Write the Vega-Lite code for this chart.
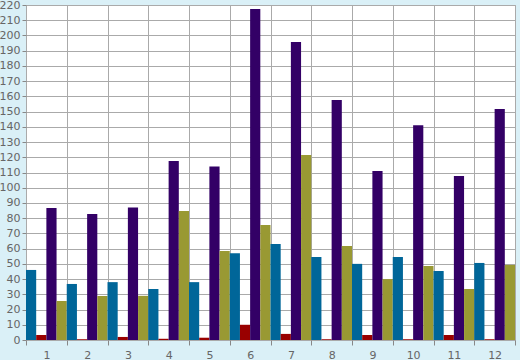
{
  "$schema": "https://vega.github.io/schema/vega-lite/v6.json",
  "autosize": {"type": "none"},
  "width": 489,
  "height": 335,
  "padding": {"left": 26, "top": 5, "right": 5, "bottom": 20},
  "background": "#daf0f7",
  "config": {
    "view": {"fill": "#ffffff", "stroke": "#aaaaaa", "strokeWidth": 1},
    "axis": {"labelFont": "DejaVu Sans", "labelFontSize": 11, "labelColor": "#666666", "gridColor": "#aaaaaa", "gridOpacity": 1, "tickColor": "#888888", "domain": false, "title": null}
  },
  "data": {
    "values": [
      {"g": 1, "s": "a", "v": 46}, {"g": 1, "s": "b", "v": 3.3}, {"g": 1, "s": "c", "v": 86.7}, {"g": 1, "s": "d", "v": 25.6},
      {"g": 2, "s": "a", "v": 36.8}, {"g": 2, "s": "b", "v": 0.5}, {"g": 2, "s": "c", "v": 82.7}, {"g": 2, "s": "d", "v": 28.9},
      {"g": 3, "s": "a", "v": 38}, {"g": 3, "s": "b", "v": 2}, {"g": 3, "s": "c", "v": 87}, {"g": 3, "s": "d", "v": 29},
      {"g": 4, "s": "a", "v": 33.5}, {"g": 4, "s": "b", "v": 0.8}, {"g": 4, "s": "c", "v": 117.5}, {"g": 4, "s": "d", "v": 84.7},
      {"g": 5, "s": "a", "v": 38}, {"g": 5, "s": "b", "v": 1.5}, {"g": 5, "s": "c", "v": 114}, {"g": 5, "s": "d", "v": 58.5},
      {"g": 6, "s": "a", "v": 57}, {"g": 6, "s": "b", "v": 10}, {"g": 6, "s": "c", "v": 217.4}, {"g": 6, "s": "d", "v": 75.5},
      {"g": 7, "s": "a", "v": 63}, {"g": 7, "s": "b", "v": 4}, {"g": 7, "s": "c", "v": 195.7}, {"g": 7, "s": "d", "v": 121.5},
      {"g": 8, "s": "a", "v": 54.5}, {"g": 8, "s": "b", "v": 0.5}, {"g": 8, "s": "c", "v": 157.6}, {"g": 8, "s": "d", "v": 61.7},
      {"g": 9, "s": "a", "v": 50}, {"g": 9, "s": "b", "v": 3.3}, {"g": 9, "s": "c", "v": 111}, {"g": 9, "s": "d", "v": 40},
      {"g": 10, "s": "a", "v": 54.5}, {"g": 10, "s": "b", "v": 0.5}, {"g": 10, "s": "c", "v": 141}, {"g": 10, "s": "d", "v": 48.6},
      {"g": 11, "s": "a", "v": 45.3}, {"g": 11, "s": "b", "v": 3.3}, {"g": 11, "s": "c", "v": 107.7}, {"g": 11, "s": "d", "v": 33.5},
      {"g": 12, "s": "a", "v": 50.6}, {"g": 12, "s": "b", "v": 0.5}, {"g": 12, "s": "c", "v": 151.7}, {"g": 12, "s": "d", "v": 49.3}
    ]
  },
  "mark": {"type": "bar"},
  "encoding": {
    "x": {
      "field": "g", "type": "ordinal",
      "scale": {"paddingInner": 0, "paddingOuter": 0},
      "axis": {"labelAngle": 0, "tickBand": "extent", "grid": true, "tickSize": 5, "labelPadding": 4}
    },
    "xOffset": {"field": "s", "type": "nominal", "scale": {"paddingInner": 0, "paddingOuter": 0}},
    "y": {
      "field": "v", "type": "quantitative",
      "scale": {"domain": [0, 220], "nice": false},
      "axis": {"values": [0,10,20,30,40,50,60,70,80,90,100,110,120,130,140,150,160,170,180,190,200,210,220], "tickSize": 4, "labelPadding": 2, "grid": true}
    },
    "color": {
      "field": "s", "type": "nominal",
      "scale": {"domain": ["a", "b", "c", "d"], "range": ["#006699", "#990000", "#330066", "#999933"]},
      "legend": null
    }
  }
}
